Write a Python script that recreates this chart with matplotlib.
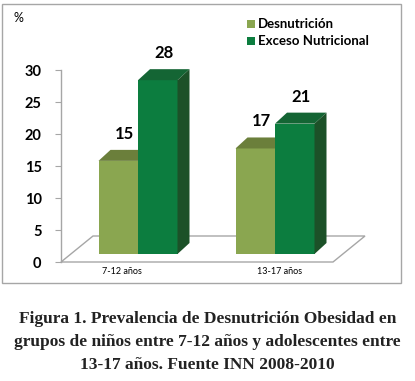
import matplotlib
matplotlib.use("Agg")
import matplotlib.pyplot as plt
from matplotlib.patches import Polygon, Rectangle
import numpy as np

categories = ["7-12 años", "13-17 años"]
series_names = ["Desnutrición", "Exceso Nutricional"]
desnutricion = [15, 17]
exceso = [28, 21]
yticks = [0, 5, 10, 15, 20, 25, 30]
caption = ("Figura 1. Prevalencia de Desnutrición Obesidad en\n"
           "grupos de niños entre 7-12 años y adolescentes entre\n"
           "13-17 años. Fuente INN 2008-2010")

W, H, DPI = 415, 381, 100
fig = plt.figure(figsize=(W / DPI, H / DPI), dpi=DPI)
fig.patch.set_facecolor("white")

# chart border
fig.add_artist(Rectangle((2 / W, 1 - 283 / H), 399 / W, 279 / H, transform=fig.transFigure,
                         fill=False, edgecolor="#A6A6A6", linewidth=1.0))

# axes placement (pixels)
ax_l, ax_r = 61, 333
ax_b, ax_t = 262, 70
ax = fig.add_axes([ax_l / W, 1 - ax_b / H, (ax_r - ax_l) / W, (ax_b - ax_t) / H])
ax.set_facecolor("none")

px_per_x = 137.0
ctr0 = 138.0
ax.set_xlim((ax_l - ctr0) / px_per_x, (ax_r - ctr0) / px_per_x)
ax.set_ylim(0, 30)
px_per_y = (ax_b - ax_t) / 30.0

x = np.arange(len(categories))
bw = 39.5 / px_per_x
base = (ax_b - 254) / px_per_y
scale = 0.97

# depth offsets (in data units)
bdx, bdy = 12 / px_per_x, 11 / px_per_y
fdx, fdy = 32 / px_per_x, 26 / px_per_y

xl, xr = ax.get_xlim()
floor = Polygon([(xl, 0), (xr, 0), (xr + fdx, fdy), (xl + fdx, fdy)], closed=True,
                facecolor="white", edgecolor="#A6A6A6", linewidth=1.0, zorder=1, clip_on=False)
ax.add_patch(floor)

colors = {
    "Desnutrición": ("#8AA650", "#6B7F3B", "#5E7233"),
    "Exceso Nutricional": ("#0C7D3F", "#146534", "#1C5128"),
}

z = 2
for i in range(len(categories)):
    for j, (name, vals) in enumerate([(series_names[0], desnutricion), (series_names[1], exceso)]):
        front, top_c, side_c = colors[name]
        x0 = x[i] - bw + j * bw
        top = base + vals[i] * scale
        ax.bar([x0], [top - base], width=bw, bottom=base, align="edge",
               color=front, edgecolor="none", zorder=z, clip_on=False)
        ax.add_patch(Polygon([(x0, top), (x0 + bw, top), (x0 + bw + bdx, top + bdy), (x0 + bdx, top + bdy)],
                             closed=True, facecolor=top_c, edgecolor="none", zorder=z + 0.1, clip_on=False))
        ax.add_patch(Polygon([(x0 + bw, base), (x0 + bw + bdx, base + bdy), (x0 + bw + bdx, top + bdy), (x0 + bw, top)],
                             closed=True, facecolor=side_c, edgecolor="none", zorder=z + 0.2, clip_on=False))
        ax.annotate(str(vals[i]), xy=(x0 + bw / 2 + bdx / 2, top + bdy), xytext=(0, 11.5),
                    textcoords="offset points", ha="center", va="center",
                    fontsize=12, fontweight="bold", family="Lato", color="black",
                    zorder=20, annotation_clip=False)
        z += 1

for s in ["top", "right", "bottom"]:
    ax.spines[s].set_visible(False)
ax.spines["left"].set_color("#A6A6A6")
ax.spines["left"].set_linewidth(1.0)
ax.set_yticks(yticks)
ax.set_yticklabels([str(t) for t in yticks], fontsize=10.5, fontweight="bold", family="Lato")
ax.tick_params(axis="y", length=4, color="#A6A6A6", pad=10)
ax.set_xticks([])

label_shift = [-16 / px_per_x, 5 / px_per_x]
for i, c in enumerate(categories):
    ax.text(x[i] + label_shift[i], -(272 - ax_b) / px_per_y, c, ha="center", va="center",
            fontsize=6.5, family="Lato", color="black", clip_on=False)

fig.text(13 / W, 1 - 18 / H, "%", fontsize=9, family="Lato", ha="left", va="center")

# legend
for k, name in enumerate(series_names):
    yc = [24, 41][k]
    fig.add_artist(Rectangle((247 / W, 1 - (yc + 3.5) / H), 7.5 / W, 7.5 / H, transform=fig.transFigure,
                             facecolor=colors[name][0], edgecolor="none"))
    fig.text(258 / W, 1 - yc / H, name, fontsize=9.5, fontweight="bold", family="Lato",
             ha="left", va="center")

fig.text(0.5, 1 - 342 / H, caption, ha="center", va="center", fontsize=12.5, fontweight="bold",
         family="Liberation Serif", linespacing=1.55, color="#222222")

fig.savefig("out.png", dpi=DPI)
